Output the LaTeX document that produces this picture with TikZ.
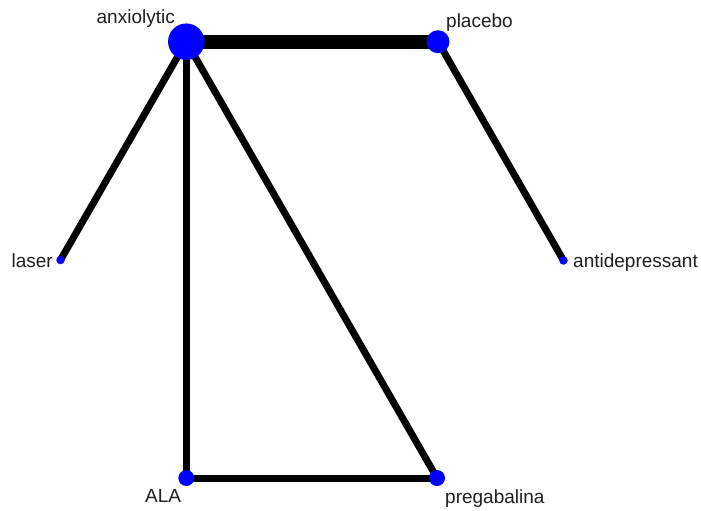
\documentclass[tikz,border=0pt]{standalone}
\usepackage{fontspec}
\setmainfont{Liberation Sans}
\usetikzlibrary{backgrounds}
\begin{document}
\begin{tikzpicture}[x=1pt,y=-1pt,
  vert/.style={circle,fill={rgb,255:red,0;green,0;blue,255},draw=none,inner sep=0pt},
  lab/.style={inner sep=0pt,font=\fontsize{19}{21}\selectfont,text={rgb,255:red,30;green,30;blue,30}},
  edge/.style={line width=7pt,black},
  bigedge/.style={line width=14pt,black}]
\useasboundingbox (0,0) rectangle (701,511);
\node[vert,minimum size=36.5pt] (anx) at (186.3,41.7) {};
\node[vert,minimum size=23pt] (pla) at (438,41.7) {};
\node[vert,minimum size=8.5pt] (las) at (60.5,260) {};
\node[vert,minimum size=8.5pt] (ant) at (563.5,260.5) {};
\node[vert,minimum size=16pt] (ala) at (186.3,478) {};
\node[vert,minimum size=16pt] (pre) at (437,478) {};
\node[lab,anchor=base east] (lanx) at (175,23.5) {anxiolytic};
\node[lab,anchor=base west] (lpla) at (446,28) {placebo};
\node[lab,anchor=base east] (llas) at (53,267) {laser};
\node[lab,anchor=base west] (lant) at (573,267) {antidepressant};
\node[lab,anchor=base west] (lala) at (145,502) {ALA};
\node[lab,anchor=base west] (lpre) at (445,503.5) {pregabalina};
\begin{scope}[on background layer]
\draw[bigedge] (anx.center) -- (pla.center);
\draw[edge] (anx.center) -- (las.center);
\draw[edge] (anx.center) -- (ala.center);
\draw[edge] (anx.center) -- (pre.center);
\draw[edge] (pla.center) -- (ant.center);
\draw[edge] (ala.center) -- (pre.center);
\end{scope}
\end{tikzpicture}
\end{document}
